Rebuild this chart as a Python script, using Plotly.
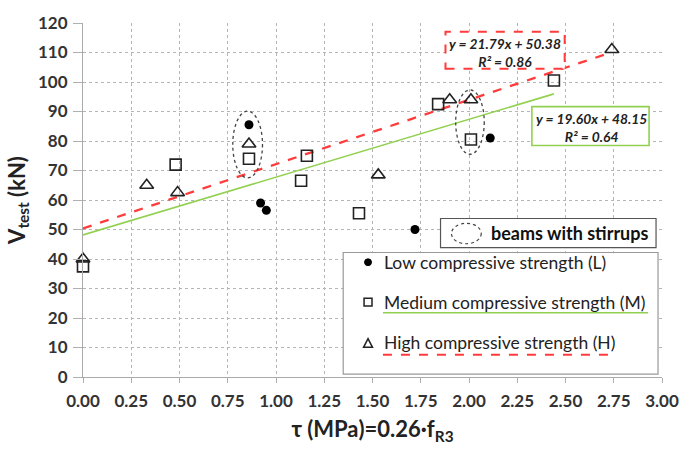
import plotly.graph_objects as go

# Shear strength test results, grouped by concrete compressive strength
low_tau = [0.86, 0.92, 0.95, 1.72, 2.11]
low_v = [85.5, 59.0, 56.5, 50.0, 81.0]

med_tau = [0.00, 0.48, 0.86, 1.13, 1.16, 1.43, 1.84, 2.01, 2.44]
med_v = [37.5, 72.0, 74.0, 66.5, 75.0, 55.5, 92.5, 80.5, 100.5]

high_tau = [0.00, 0.33, 0.49, 0.86, 1.53, 1.90, 2.01, 2.74]
high_v = [40.0, 65.0, 62.5, 79.0, 68.5, 94.0, 94.0, 111.0]

# Linear trend lines: slope, intercept, R², x-extent
fit_h = dict(slope=21.79, intercept=50.38, r2=0.86, x=[0.0, 2.74])
fit_m = dict(slope=19.60, intercept=48.15, r2=0.64, x=[0.0, 2.44])

x_ticks = [0.00, 0.25, 0.50, 0.75, 1.00, 1.25, 1.50, 1.75, 2.00, 2.25, 2.50, 2.75, 3.00]
y_ticks = list(range(0, 121, 10))

legend_labels = ["Low compressive strength (L)",
                 "Medium compressive strength (M)",
                 "High compressive strength (H)"]
stirrups_label = "beams with stirrups"

RED = "#ff3b3b"
GREEN = "#92d050"
FONT = "Lato"

W, H = 691, 450
ML, MR, MT, MB = 83, 25, 16, 70
PW, PH = W - ML - MR, H - MT - MB


def px(x):
    return (x - ML) / PW


def py(y):
    return (H - MB - y) / PH


fig = go.Figure()

for fit, color, dash, width in [(fit_m, GREEN, "solid", 1.6), (fit_h, RED, "dash", 2.3)]:
    ys = [fit["slope"] * x + fit["intercept"] for x in fit["x"]]
    fig.add_trace(go.Scatter(x=fit["x"], y=ys, mode="lines",
                             line=dict(color=color, width=width, dash=dash),
                             hoverinfo="skip", showlegend=False))

fig.add_trace(go.Scatter(x=low_tau, y=low_v, mode="markers", showlegend=False,
                         cliponaxis=False,
                         marker=dict(symbol="circle", size=9, color="black")))
fig.add_trace(go.Scatter(x=med_tau, y=med_v, mode="markers", showlegend=False,
                         cliponaxis=False,
                         marker=dict(symbol="square-open", size=11, color="#222",
                                     line=dict(width=1.6))))
fig.add_trace(go.Scatter(x=high_tau, y=high_v, mode="markers", showlegend=False,
                         cliponaxis=False,
                         marker=dict(symbol="triangle-up-open", size=12, color="#222",
                                     line=dict(width=1.6))))

shapes = []
# dotted ellipses marking the beams with stirrups
for cx, cy, rx, ry in [(0.853, 78.8, 0.077, 11.3), (2.005, 86.4, 0.074, 10.9)]:
    shapes.append(dict(type="circle", xref="x", yref="y",
                       x0=cx - rx, x1=cx + rx, y0=cy - ry, y1=cy + ry,
                       line=dict(color="#444", width=1.3, dash="dot")))

# trend-line equation boxes
shapes.append(dict(type="rect", xref="paper", yref="paper",
                   x0=px(448), x1=px(568), y0=py(63), y1=py(25),
                   fillcolor="white", line=dict(color=RED, width=2, dash="dash")))
shapes.append(dict(type="rect", xref="paper", yref="paper",
                   x0=px(535), x1=px(653), y0=py(142), y1=py(102),
                   fillcolor="white", line=dict(color=GREEN, width=1.6)))

# "beams with stirrups" key
shapes.append(dict(type="rect", xref="paper", yref="paper",
                   x0=px(443), x1=px(660), y0=py(247), y1=py(217),
                   fillcolor="white", line=dict(color="#555", width=1.2)))
shapes.append(dict(type="circle", xref="paper", yref="paper",
                   x0=px(454), x1=px(484), y0=py(243), y1=py(222),
                   line=dict(color="#444", width=1.2, dash="dot")))

# series key
shapes.append(dict(type="rect", xref="paper", yref="paper",
                   x0=px(345), x1=px(662), y0=py(377), y1=py(252),
                   fillcolor="white", line=dict(color="#999", width=1.2)))
shapes.append(dict(type="circle", xref="paper", yref="paper",
                   x0=px(366.5), x1=px(373.5), y0=py(265.5), y1=py(258.5),
                   fillcolor="black", line=dict(color="black", width=1)))
shapes.append(dict(type="rect", xref="paper", yref="paper",
                   x0=px(366), x1=px(374), y0=py(307), y1=py(299),
                   line=dict(color="#222", width=1.5)))
shapes.append(dict(type="path", xref="paper", yref="paper",
                   path=f"M {px(365.5)} {py(349.5)} L {px(374.5)} {py(349.5)} L {px(370)} {py(340.5)} Z",
                   line=dict(color="#222", width=1.5)))
shapes.append(dict(type="line", xref="paper", yref="paper",
                   x0=px(385), x1=px(652), y0=py(314), y1=py(314),
                   line=dict(color=GREEN, width=1.6)))
shapes.append(dict(type="line", xref="paper", yref="paper",
                   x0=px(385), x1=px(612), y0=py(357), y1=py(357),
                   line=dict(color=RED, width=2, dash="dash")))

annotations = []
eq_font = dict(family=FONT, size=13.8, color="#222")
for fit, cx, cy in [(fit_h, 508, 46), (fit_m, 595, 123)]:
    txt = (f"<b><i>y = {fit['slope']:.2f}x + {fit['intercept']:.2f}<br>"
           f"R² = {fit['r2']:.2f}</i></b>")
    annotations.append(dict(xref="paper", yref="paper", x=px(cx), y=py(cy),
                            text=txt, showarrow=False, font=eq_font,
                            xanchor="center", yanchor="middle", align="center"))

annotations.append(dict(xref="paper", yref="paper", x=px(492), y=py(232),
                        text=f"<b>{stirrups_label}</b>", showarrow=False,
                        font=dict(family=FONT, size=18, color="#111"),
                        xanchor="left", yanchor="middle"))
for label, yy in zip(legend_labels, [262, 303, 345]):
    annotations.append(dict(xref="paper", yref="paper", x=px(384), y=py(yy),
                            text=label, showarrow=False,
                            font=dict(family=FONT, size=17.5, color="#222"),
                            xanchor="left", yanchor="middle"))

axis_common = dict(showline=True, linecolor="#aaa", linewidth=1.2,
                   ticks="outside", tickcolor="#b0b0b0",
                   showgrid=True, gridcolor="#b5b5b5", griddash="dot", gridwidth=1,
                   zeroline=False,
                   tickfont=dict(family=FONT, size=17, color="#333", weight="bold"))

fig.update_layout(
    width=W, height=H,
    margin=dict(l=ML, r=MR, t=MT, b=MB),
    paper_bgcolor="white", plot_bgcolor="white",
    shapes=shapes, annotations=annotations,
    xaxis=dict(range=[0, 3], tickvals=x_ticks, ticklen=5, ticklabelstandoff=3,
               ticktext=[f"{v:.2f}" for v in x_ticks],
               title=dict(text="<b>τ (MPa)=0.26·f<sub>R3</sub></b>", standoff=12,
                          font=dict(family=FONT, size=22, color="#222")),
               **axis_common),
    yaxis=dict(range=[0, 120], tickvals=y_ticks, ticklen=9, ticklabelstandoff=2,
               title=dict(text="<b>V<sub>test</sub> (kN)</b>", standoff=6,
                          font=dict(family=FONT, size=22, color="#222")),
               **axis_common),
)

fig.write_html("out.html")
